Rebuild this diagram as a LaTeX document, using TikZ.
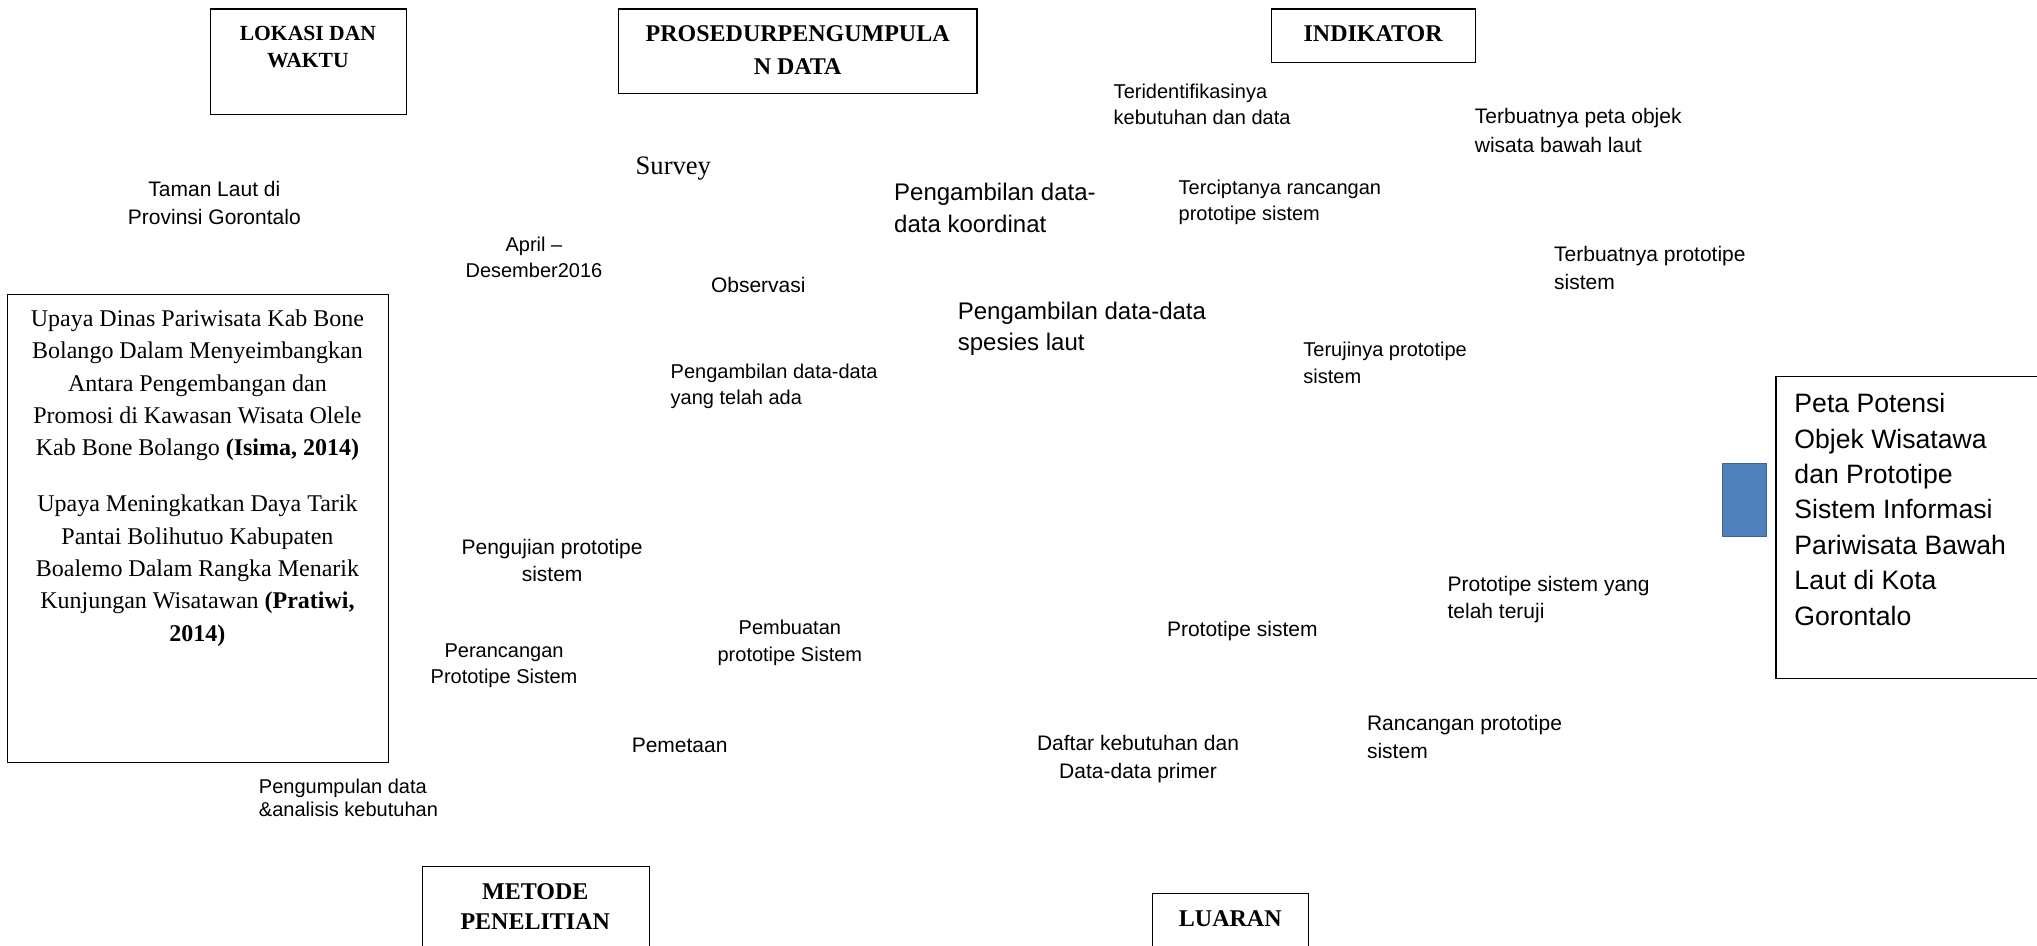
\documentclass[tikz,border=0pt]{standalone}
\usepackage{fontspec}
\setmainfont{Liberation Serif}
\setsansfont{Liberation Sans}
\usetikzlibrary{fit}
\definecolor{markblue}{HTML}{4F81BD}
\definecolor{markedge}{HTML}{3A6496}

\begin{document}
\begin{tikzpicture}[x=0.6495pt, y=-0.6495pt,
  frame/.style={draw=black, line width=0.6pt, inner sep=0pt},
  title/.style={inner sep=0pt, align=center, font=\rmfamily\bfseries\fontsize{12}{#1}\selectfont},
  title/.default=14.5,
  lbl/.style={inner sep=0pt, font=\sffamily\fontsize{10.5}{#1}\selectfont},
  lbl/.default=13.5,
  sml/.style={inner sep=0pt, font=\sffamily\fontsize{10}{#1}\selectfont},
  sml/.default=13,
  biglbl/.style={inner sep=0pt, align=left, font=\sffamily\fontsize{12}{15.6}\selectfont},
  ]
\useasboundingbox (0,0) rectangle (1568,728);
\clip (0,0) rectangle (1568,728);

% ---- framed headings ----
\node[frame, fit={(162,7) (313,88)}] (lokasi) {};
\node[inner sep=0pt, align=center, font=\rmfamily\bfseries\fontsize{10.8}{13.6}\selectfont,
      anchor=north] (lokasiT) at (237,20) {LOKASI DAN\\WAKTU};

\node[frame, fit={(476,7) (752,72)}] (prosedur) {};
\node[title=16.3, anchor=north] (prosedurT) at (614,19.5) {PROSEDURPENGUMPULA\\N DATA};

\node[frame, fit={(979,7) (1136,48)}] (indikator) {};
\node[title, anchor=center] (indikatorT) at (1057,26) {INDIKATOR};

\node[frame, fit={(325,667) (500,740)}] (metode) {};
\node[title=15, anchor=north] (metodeT) at (412,680) {METODE\\PENELITIAN};

\node[frame, fit={(887,688) (1007,740)}] (luaran) {};
\node[title, anchor=center] (luaranT) at (947,707) {LUARAN};

% ---- reference box on the left ----
\node[frame, fit={(6,227) (299,587)}] (ref) {};
\node[inner sep=0pt, anchor=north, align=center,
      font=\rmfamily\fontsize{12}{16.2}\selectfont] (refT) at (152,238)
  {Upaya Dinas Pariwisata Kab Bone\\
   Bolango Dalam Menyeimbangkan\\
   Antara Pengembangan dan\\
   Promosi di Kawasan Wisata Olele\\
   Kab Bone Bolango \textbf{(Isima, 2014)}\\[11.7pt]
   Upaya Meningkatkan Daya Tarik\\
   Pantai Bolihutuo Kabupaten\\
   Boalemo Dalam Rangka Menarik\\
   Kunjungan Wisatawan \textbf{(Pratiwi,}\\
   \textbf{2014)}};

% ---- output box on the right ----
\node[frame, fit={(1367,290) (1590,522)}] (hasil) {};
\node[inner sep=0pt, anchor=north west, align=left,
      font=\sffamily\fontsize{13.3}{17.7}\selectfont] (hasilT) at (1381,302.5)
  {Peta Potensi\\Objek Wisatawa\\dan Prototipe\\Sistem Informasi\\Pariwisata Bawah\\Laut di Kota\\Gorontalo};
\node[fill=markblue, draw=markedge, line width=0.6pt, inner sep=0pt,
      fit={(1326,357) (1360,413)}] (marker) {};

% ---- location and time ----
\node[lbl=14.3, align=center, anchor=north] (taman) at (165,139) {Taman Laut di\\Provinsi Gorontalo};
\node[sml, align=center, anchor=north] (april) at (411,182) {April --\\Desember2016};

% ---- data collection ----
\node[inner sep=0pt, anchor=west, font=\rmfamily\fontsize{13.3}{16}\selectfont] (survey) at (489,130) {Survey};
\node[lbl, anchor=west] (observasi) at (547,219) {Observasi};
\node[sml, align=left, anchor=north west] (ambilAda) at (516,280) {Pengambilan data-data\\yang telah ada};
\node[biglbl, anchor=north west] (ambilKoord) at (688,141) {Pengambilan data-\\data koordinat};
\node[biglbl, anchor=north west] (ambilSpesies) at (737,232) {Pengambilan data-data\\spesies laut};

% ---- indicators ----
\node[sml, align=left, anchor=north west] (ind1) at (857,64) {Teridentifikasinya\\kebutuhan dan data};
\node[lbl=14.3, align=left, anchor=north west] (ind2) at (1135,83) {Terbuatnya peta objek\\wisata bawah laut};
\node[sml, align=left, anchor=north west] (ind3) at (907,138) {Terciptanya rancangan\\prototipe sistem};
\node[lbl=14.3, align=left, anchor=north west] (ind4) at (1196,189) {Terbuatnya prototipe\\sistem};
\node[sml=13.6, align=left, anchor=north west] (ind5) at (1003,263) {Terujinya prototipe\\sistem};

% ---- research method ----
\node[lbl=13.6, align=center, anchor=north] (uji) at (425,415) {Pengujian prototipe\\sistem};
\node[sml, align=center, anchor=north] (rancang) at (388,495) {Perancangan\\Prototipe Sistem};
\node[sml=13.6, align=center, anchor=north] (buat) at (608,477) {Pembuatan\\prototipe Sistem};
\node[lbl, anchor=west] (peta) at (486,574) {Pemetaan};
\node[sml=11.7, align=left, anchor=north west] (kumpul) at (199,599) {Pengumpulan data\\\&analisis kebutuhan};

% ---- outputs ----
\node[lbl=13.6, align=left, anchor=north west] (out1) at (1114,443) {Prototipe sistem yang\\telah teruji};
\node[lbl, anchor=west] (out2) at (898,486) {Prototipe sistem};
\node[lbl=14.3, align=left, anchor=north west] (out3) at (1052,550) {Rancangan prototipe\\sistem};
\node[lbl=13.6, align=center, anchor=north] (out4) at (876,566) {Daftar kebutuhan dan\\Data-data primer};
\end{tikzpicture}
\end{document}
